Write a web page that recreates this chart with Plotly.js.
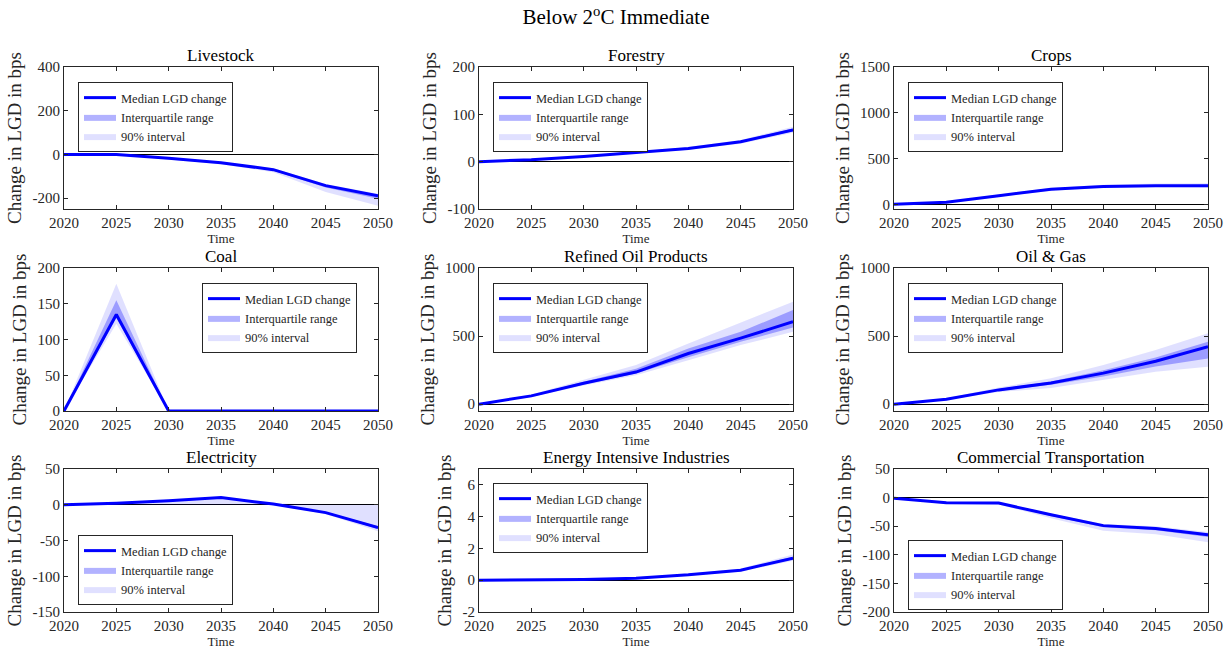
<!DOCTYPE html>
<html><head><meta charset="utf-8">
<script src="https://cdn.plot.ly/plotly-3.0.1.min.js"></script>
<style>html,body{margin:0;padding:0;background:#fff}#chart{width:1232px;height:653px}</style>
</head><body><div id="chart"></div>
<script>
// ---------- data ----------
const years = [2020, 2025, 2030, 2035, 2040, 2045, 2050];
const xTicks = [2020, 2025, 2030, 2035, 2040, 2045, 2050];
const sectorNames = ['Livestock', 'Forestry', 'Crops', 'Coal', 'Refined Oil Products', 'Oil & Gas', 'Electricity', 'Energy Intensive Industries', 'Commercial Transportation'];

const livestockMedian = [0, 0, -18, -38, -70, -143, -190];
const livestockQ25    = [0, -1, -20, -41, -75, -152, -203];
const livestockQ75    = [0, 0, -17, -36, -67, -139, -185];
const livestockQ05    = [0, -2, -23, -45, -82, -172, -235];
const livestockQ95    = [0, 0, -15, -34, -64, -135, -180];
const livestockTicks  = [-200, 0, 200, 400];

const forestryMedian = [0, 4, 11, 19, 28, 42, 67];
const forestryQ25    = [0, 3.5, 10, 18, 27, 40, 64];
const forestryQ75    = [0, 4.5, 12, 20, 29, 44, 70];
const forestryQ05    = [0, 3, 9, 17, 25, 38, 61];
const forestryQ95    = [0, 5, 13, 21, 31, 46, 74];
const forestryTicks  = [-100, 0, 100, 200];

const cropsMedian = [3, 25, 95, 165, 195, 205, 205];
const cropsQ25    = [2, 22, 90, 160, 190, 200, 198];
const cropsQ75    = [4, 28, 100, 170, 202, 212, 214];
const cropsQ05    = [0, 18, 82, 150, 182, 190, 185];
const cropsQ95    = [6, 32, 108, 180, 215, 228, 232];
const cropsTicks  = [0, 500, 1000, 1500];

const coalMedian = [0, 135, 0, 0, 0, 0, 0];
const coalQ25    = [0, 130, 0, 0, 0, 0, 0];
const coalQ75    = [0, 155, 0, 0, 0, 0, 0];
const coalQ05    = [0, 122, 0, 0, 0, 0, 0];
const coalQ95    = [0, 178, 0, 0, 0, 0, 0];
const coalTicks  = [0, 50, 100, 150, 200];

const refinedMedian = [0, 61, 154, 236, 372, 485, 605];
const refinedQ25    = [0, 57, 145, 225, 345, 458, 564];
const refinedQ75    = [0, 66, 165, 260, 409, 532, 691];
const refinedQ05    = [0, 52, 138, 213, 323, 434, 532];
const refinedQ95    = [0, 72, 180, 287, 446, 598, 752];
const refinedTicks  = [0, 500, 1000];

const oilGasMedian = [0, 37, 105, 155, 228, 315, 422];
const oilGasQ25    = [0, 35, 98, 142, 203, 276, 336];
const oilGasQ75    = [0, 39, 112, 166, 250, 343, 458];
const oilGasQ05    = [0, 32, 90, 118, 178, 238, 274];
const oilGasQ95    = [0, 43, 122, 190, 287, 397, 520];
const oilGasTicks  = [0, 500, 1000];

const electricityMedian = [0, 2, 5.5, 10, 1, -11, -32];
const electricityQ25    = [0, 1.5, 5, 9, 0.5, -12, -34];
const electricityQ75    = [0, 2.5, 6, 10.5, 1.5, -10, -30];
const electricityQ05    = [0, 0, 0, 0, 0, -13, -37];
const electricityQ95    = [0, 3, 7, 11, 2, 0, 0];
const electricityTicks  = [-150, -100, -50, 0, 50];

const energyMedian = [0, 0, 0.04, 0.13, 0.34, 0.63, 1.39];
const energyQ25    = [0, 0, 0.03, 0.11, 0.31, 0.59, 1.32];
const energyQ75    = [0, 0, 0.05, 0.15, 0.37, 0.68, 1.47];
const energyQ05    = [0, 0, 0.02, 0.09, 0.28, 0.55, 1.22];
const energyQ95    = [0, 0.01, 0.06, 0.17, 0.41, 0.73, 1.62];
const energyTicks  = [-2, 0, 2, 4, 6];

const transportMedian = [-1, -9, -9.5, -30, -49, -54, -65];
const transportQ25    = [-1, -10, -10.5, -32, -52, -57, -69];
const transportQ75    = [-1, -8.5, -9, -29, -48, -52, -63];
const transportQ05    = [-1, -11, -12, -36, -58, -64, -78];
const transportQ95    = [-1, -8, -8.5, -28, -46, -50, -60];
const transportTicks  = [-200, -150, -100, -50, 0, 50];

const seriesLabels = ['Median LGD change', 'Interquartile range', '90% interval'];

// ---------- assemble ----------
const panelData = [
  [livestockMedian, livestockQ25, livestockQ75, livestockQ05, livestockQ95, livestockTicks],
  [forestryMedian, forestryQ25, forestryQ75, forestryQ05, forestryQ95, forestryTicks],
  [cropsMedian, cropsQ25, cropsQ75, cropsQ05, cropsQ95, cropsTicks],
  [coalMedian, coalQ25, coalQ75, coalQ05, coalQ95, coalTicks],
  [refinedMedian, refinedQ25, refinedQ75, refinedQ05, refinedQ95, refinedTicks],
  [oilGasMedian, oilGasQ25, oilGasQ75, oilGasQ05, oilGasQ95, oilGasTicks],
  [electricityMedian, electricityQ25, electricityQ75, electricityQ05, electricityQ95, electricityTicks],
  [energyMedian, energyQ25, energyQ75, energyQ05, energyQ95, energyTicks],
  [transportMedian, transportQ25, transportQ75, transportQ05, transportQ95, transportTicks]
];
// layout settings (kept apart from data)
const yRanges = [[-250, 400], [-100, 200], [-50, 1500], [0, 200], [-50, 1000], [-50, 1000], [-150, 50], [-2, 7], [-200, 50]];
const legendPx = [[78, 82], [493, 82], [908, 82], [202, 283], [493, 283], [908, 283], [78, 535], [493, 483], [908, 540]];
const colPx = [[64, 378], [479, 793], [894, 1208]];
const rowPx = [[67, 209], [268, 411], [469, 612]];
const W = 1232, H = 653;
const FONT = 'Liberation Serif';
const INK = '#262626';

const traces = [];
const layout = {
  width: W, height: H,
  margin: {l: 0, r: 0, t: 0, b: 0},
  paper_bgcolor: '#fff', plot_bgcolor: '#fff',
  font: {family: FONT, color: INK},
  title: {text: 'Below 2<sup>o</sup>C Immediate', font: {family: FONT, size: 21, color: '#000'},
          x: 0.5, xanchor: 'center', y: 1 - 17 / H, yanchor: 'middle', yref: 'container'},
  annotations: []
};

panelData.forEach((p, i) => {
  const [med, q25, q75, q05, q95, ticks] = p;
  const s = i === 0 ? '' : String(i + 1);
  const col = i % 3, row = Math.floor(i / 3);
  const xa = 'x' + s, ya = 'y' + s, lg = 'legend' + s;
  const rev = a => a.slice().reverse();
  const xPoly = years.concat(rev(years));

  traces.push({
    x: xPoly, y: q95.concat(rev(q05)), xaxis: xa, yaxis: ya, legend: lg,
    type: 'scatter', mode: 'lines', fill: 'toself', fillcolor: 'rgba(0,0,255,0.12)',
    line: {width: 0}, name: seriesLabels[2], legendrank: 3, hoverinfo: 'skip'
  });
  traces.push({
    x: xPoly, y: q75.concat(rev(q25)), xaxis: xa, yaxis: ya, legend: lg,
    type: 'scatter', mode: 'lines', fill: 'toself', fillcolor: 'rgba(0,0,255,0.30)',
    line: {width: 0}, name: seriesLabels[1], legendrank: 2, hoverinfo: 'skip'
  });
  traces.push({
    x: years, y: med, xaxis: xa, yaxis: ya, legend: lg,
    type: 'scatter', mode: 'lines', line: {color: '#0000ff', width: 3},
    name: seriesLabels[0], legendrank: 1
  });

  const xdom = [colPx[col][0] / W, colPx[col][1] / W];
  const ydom = [1 - rowPx[row][1] / H, 1 - rowPx[row][0] / H];
  const axisCommon = {
    showgrid: false, ticks: 'inside', ticklen: 4, tickcolor: INK, tickwidth: 1,
    showline: true, linecolor: INK, linewidth: 1, mirror: 'ticks',
    tickfont: {family: FONT, size: 15, color: INK}
  };
  layout['xaxis' + s] = Object.assign({}, axisCommon, {
    domain: xdom, anchor: ya, range: [2020, 2050], tickvals: xTicks,
    ticktext: xTicks.map(String), zeroline: false,
    title: {text: 'Time', font: {family: FONT, size: 13, color: INK}, standoff: 3}
  });
  layout['yaxis' + s] = Object.assign({}, axisCommon, {
    domain: ydom, anchor: xa, range: yRanges[i], tickvals: ticks,
    ticktext: ticks.map(String), zeroline: true, zerolinecolor: '#000', zerolinewidth: 1,
    title: {text: 'Change in LGD in bps', font: {family: FONT, size: 19, color: INK}, standoff: 5}
  });
  layout[lg] = {
    x: legendPx[i][0] / W, y: 1 - legendPx[i][1] / H, xanchor: 'left', yanchor: 'top',
    xref: 'paper', yref: 'paper',
    bgcolor: '#fff', bordercolor: INK, borderwidth: 1, itemwidth: 32,
    font: {family: FONT, size: 12.5, color: INK}, traceorder: 'normal'
  };
  layout.annotations.push({
    text: sectorNames[i], xref: 'paper', yref: 'paper',
    x: (xdom[0] + xdom[1]) / 2, y: ydom[1], xanchor: 'center', yanchor: 'bottom', yshift: 0,
    showarrow: false, font: {family: FONT, size: 17, color: '#000'}
  });
});

Plotly.newPlot('chart', traces, layout, {displayModeBar: false, staticPlot: true});
</script>
</body></html>
